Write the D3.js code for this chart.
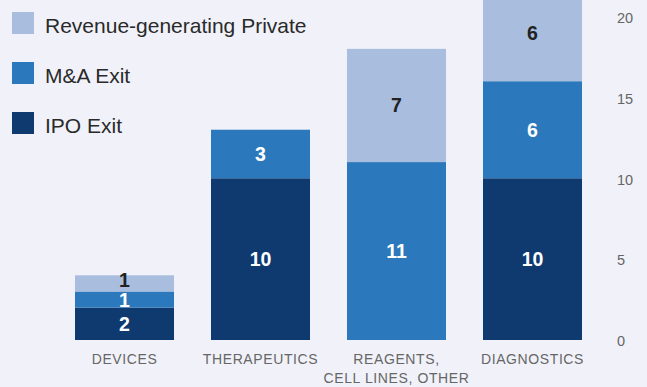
<!DOCTYPE html>
<html>
<head>
<meta charset="utf-8">
<script src="https://cdn.jsdelivr.net/npm/d3@7"></script>
<style>
  html, body { margin: 0; padding: 0; background: #f1f2f9; }
  svg { display: block; font-family: "Liberation Sans", Arial, Helvetica, sans-serif; }
</style>
</head>
<body>
<svg id="chart" width="647" height="387"></svg>
<script>
// Sector outcomes, stacked from the bottom up
const categories = ["DEVICES", "THERAPEUTICS", "REAGENTS,\nCELL LINES, OTHER", "DIAGNOSTICS"];
const seriesNames = ["IPO Exit", "M&A Exit", "Revenue-generating Private"];
const ipoExit = [2, 10, 0, 10];
const maExit = [1, 3, 11, 6];
const revenuePrivate = [1, 0, 7, 6];
const yTicks = [0, 5, 10, 15, 20];

const colors = ["#0f3a70", "#2b79bc", "#a9bddf"];
const labelColors = ["#ffffff", "#ffffff", "#222222"];

const svg = d3.select("#chart");

const x = d3.scaleBand().domain(categories).range([75, 582]).paddingInner(0.272).paddingOuter(0);
const y = d3.scaleLinear().domain([0, 20]).range([340, 16.5]);

const rows = categories.map((c, i) => ({
  cat: c, ipo: ipoExit[i], ma: maExit[i], rev: revenuePrivate[i]
}));
const stack = d3.stack().keys(["ipo", "ma", "rev"]);
const layers = stack(rows);

// Bars
const g = svg.append("g");
layers.forEach((layer, li) => {
  g.selectAll(null).data(layer).enter().append("rect")
    .attr("x", d => x(d.data.cat))
    .attr("width", x.bandwidth())
    .attr("y", d => y(d[1]))
    .attr("height", d => y(d[0]) - y(d[1]))
    .attr("fill", colors[li]);
});

// Value labels centred in each segment; a thin top segment lifts its label a little
layers.forEach((layer, li) => {
  g.selectAll(null).data(layer.filter(d => d[1] - d[0] > 0)).enter().append("text")
    .attr("x", d => x(d.data.cat) + x.bandwidth() / 2)
    .attr("y", d => {
      const mid = (y(d[0]) + y(d[1])) / 2;
      const thin = y(d[0]) - y(d[1]) < 20;
      return li === 2 && thin ? mid - 3 : mid;
    })
    .attr("dy", "0.36em")
    .attr("text-anchor", "middle")
    .attr("font-size", 19.5)
    .attr("font-weight", "bold")
    .attr("fill", labelColors[li])
    .text(d => d[1] - d[0]);
});

// Right-hand value axis
const yAxis = d3.axisRight(y).tickValues(yTicks).tickSize(0).tickPadding(0);
const ya = svg.append("g").attr("transform", "translate(617,0)").call(yAxis);
ya.select(".domain").remove();
ya.selectAll("text").attr("font-size", 14.5).attr("fill", "#666").attr("font-family", null)
  .attr("text-anchor", "start").attr("dy", "0.4em");

// Category axis
const xAxis = d3.axisBottom(x).tickSize(0).tickPadding(0);
const xa = svg.append("g").attr("transform", "translate(0,353)").call(xAxis);
xa.select(".domain").remove();
xa.selectAll("text").remove();
xa.selectAll(".tick").each(function(d) {
  const t = d3.select(this).append("text")
    .attr("text-anchor", "middle")
    .attr("font-size", 14)
    .attr("letter-spacing", 0.6)
    .attr("fill", "#666");
  d.split("\n").forEach((line, i) => {
    t.append("tspan").attr("x", 0).attr("y", 11 + i * 19).text(line);
  });
});

// Legend
const legendOrder = [2, 1, 0];
const lg = svg.append("g");
legendOrder.forEach((si, i) => {
  const row = lg.append("g").attr("transform", `translate(12,${12 + i * 50})`);
  row.append("rect").attr("width", 22).attr("height", 22).attr("fill", colors[si]);
  row.append("text").attr("x", 33).attr("y", 20.5)
    .attr("font-size", 21).attr("fill", "#2a2a2a").text(seriesNames[si]);
});
</script>
</body>
</html>
